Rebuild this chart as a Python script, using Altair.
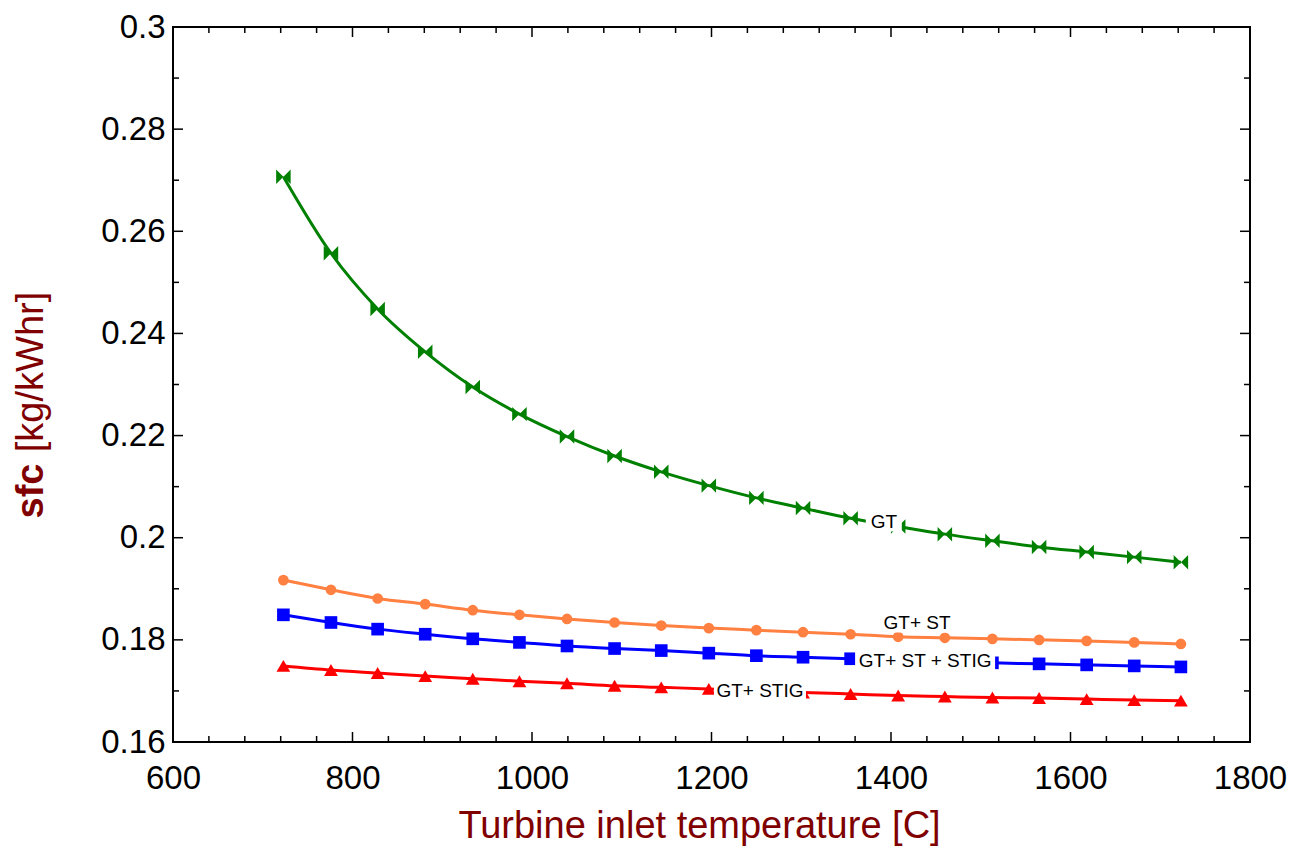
import altair as alt
import pandas as pd

# ---- data ----
temps = [723, 776, 828, 881, 934, 986, 1039, 1092, 1144, 1197,
         1250, 1302, 1355, 1408, 1460, 1513, 1565, 1618, 1671, 1723]
sfc_gt = [0.2707, 0.2557, 0.2448, 0.2364, 0.2295, 0.2242, 0.2198, 0.2160, 0.2129, 0.2102,
          0.2078, 0.2058, 0.2038, 0.2022, 0.2007, 0.1994, 0.1982, 0.1972, 0.1962, 0.1952]
sfc_gt_st = [0.1917, 0.1898, 0.1881, 0.1870, 0.1858, 0.1849, 0.1841, 0.1834, 0.1828, 0.1823,
             0.1819, 0.1815, 0.1811, 0.1806, 0.1804, 0.1802, 0.1800, 0.1798, 0.1795, 0.1792]
sfc_gt_st_stig = [0.1849, 0.1834, 0.1821, 0.1811, 0.1802, 0.1795, 0.1788, 0.1783, 0.1779, 0.1774,
                  0.1769, 0.1766, 0.1763, 0.1761, 0.1758, 0.1755, 0.1753, 0.1751, 0.1749, 0.1747]
sfc_gt_stig = [0.1749, 0.1741, 0.1735, 0.1729, 0.1724, 0.1719, 0.1715, 0.1710, 0.1707, 0.1704,
               0.1700, 0.1697, 0.1694, 0.1691, 0.1689, 0.1687, 0.1686, 0.1684, 0.1682, 0.1681]

series_names = ["GT", "GT+ ST", "GT+ ST + STIG", "GT+ STIG"]
series_colors = ["#008000", "#FF8040", "#0000FF", "#FF0000"]

# inline labels (anchor in data units)
label_text = ["GT", "GT+ ST", "GT+ ST + STIG", "GT+ STIG"]
label_x = [1392, 1429, 1438, 1254]
label_y = [0.2031, 0.1833, 0.1759, 0.1699]

x_major = [600, 800, 1000, 1200, 1400, 1600, 1800]
x_minor = [640, 680, 720, 760, 840, 880, 920, 960, 1040, 1080, 1120, 1160,
           1240, 1280, 1320, 1360, 1440, 1480, 1520, 1560, 1640, 1680, 1720, 1760]
y_major = [0.16, 0.18, 0.20, 0.22, 0.24, 0.26, 0.28, 0.30]
y_minor = [0.17, 0.19, 0.21, 0.23, 0.25, 0.27, 0.29]

# ---- layout / style ----
W, H = 1077, 715
FONT = "Liberation Sans"
LABEL_BOX_HALF_PX = [18, 37, 70, 46]      # half-width of white box behind each label (pixels)
PX_PER_UNIT_X = W / (1800 - 600)

# ---- build tables ----
series_vals = [sfc_gt, sfc_gt_st, sfc_gt_st_stig, sfc_gt_stig]
rows = []
for name, vals in zip(series_names, series_vals):
    for t, v in zip(temps, vals):
        rows.append({"T": t, "sfc": v, "series": name})
df = pd.DataFrame(rows)

labels_df = pd.DataFrame({"text": label_text, "T": label_x, "sfc": label_y})
labels_df["x0"] = [x - h / PX_PER_UNIT_X for x, h in zip(label_x, LABEL_BOX_HALF_PX)]
labels_df["x1"] = [x + h / PX_PER_UNIT_X for x, h in zip(label_x, LABEL_BOX_HALF_PX)]

xs = alt.Scale(domain=[600, 1800], nice=False, zero=False)
ys = alt.Scale(domain=[0.16, 0.30], nice=False, zero=False)
color = alt.Color("series:N", scale=alt.Scale(domain=series_names, range=series_colors), legend=None)

bowtie = "M-1,-1L0,0L-1,1Z M1,-1L0,0L1,1Z"

lines = alt.Chart(df).mark_line(strokeWidth=3, interpolate="monotone").encode(
    x=alt.X("T:Q", scale=xs, axis=alt.Axis(
        values=x_major, format="d", tickSize=0, domain=False, grid=False, labelFlush=False,
        labelFont=FONT, labelFontSize=33, labelColor="black", labelPadding=20,
        title="Turbine inlet temperature [C]", titleFont=FONT, titleFontSize=38,
        titleFontWeight="normal", titleColor="#800000", titlePadding=12, titleX=526)),
    y=alt.Y("sfc:Q", scale=ys, axis=alt.Axis(
        values=y_major, format=".2~f", tickSize=0, domain=False, grid=False, labelFlush=False,
        labelFont=FONT, labelFontSize=33, labelColor="black", labelPadding=8, title=None)),
    color=color,
    detail="series:N",
)

marker_specs = [(bowtie, 210), ("circle", 115), ("square", 160), ("triangle-up", 190)]
point_layers = []
for name, col, (shp, sz) in zip(series_names, series_colors, marker_specs):
    point_layers.append(
        alt.Chart(df).transform_filter(alt.datum.series == name).mark_point(
            shape=shp, size=sz, filled=True, fill=col, opacity=1, strokeWidth=0).encode(
            x=alt.X("T:Q", scale=xs), y=alt.Y("sfc:Q", scale=ys))
    )

box = alt.Chart(labels_df).mark_rule(color="white", strokeWidth=19).encode(
    x=alt.X("x0:Q", scale=xs), x2="x1:Q", y=alt.Y("sfc:Q", scale=ys))
label_txt = alt.Chart(labels_df).mark_text(font=FONT, fontSize=19, color="black").encode(
    x=alt.X("T:Q", scale=xs), y=alt.Y("sfc:Q", scale=ys), text="text:N")

# inward ticks on all four sides
xmaj = pd.DataFrame({"v": x_major})
xmin = pd.DataFrame({"v": x_minor})
ymaj = pd.DataFrame({"v": y_major})
ymin = pd.DataFrame({"v": y_minor})

def xticks(d, length):
    bot = alt.Chart(d).mark_rule(color="black", strokeWidth=1.5).encode(
        x=alt.X("v:Q", scale=xs), y=alt.value(H), y2=alt.value(H - length))
    top = alt.Chart(d).mark_rule(color="black", strokeWidth=1.5).encode(
        x=alt.X("v:Q", scale=xs), y=alt.value(0), y2=alt.value(length))
    return bot + top

def yticks(d, length):
    left = alt.Chart(d).mark_rule(color="black", strokeWidth=1.5).encode(
        y=alt.Y("v:Q", scale=ys), x=alt.value(0), x2=alt.value(length))
    right = alt.Chart(d).mark_rule(color="black", strokeWidth=1.5).encode(
        y=alt.Y("v:Q", scale=ys), x=alt.value(W), x2=alt.value(W - length))
    return left + right

ticks = xticks(xmaj, 10) + xticks(xmin, 6) + yticks(ymaj, 10) + yticks(ymin, 6)

ytitle_df = pd.DataFrame({"a": ["sfc"], "b": ["[kg/kWhr]"]})
ytitle1 = alt.Chart(ytitle_df).mark_text(font=FONT, fontSize=38, fontWeight="bold", color="#800000",
                                         angle=270, align="center", baseline="middle").encode(
    text="a:N", x=alt.value(-141), y=alt.value(464))
ytitle2 = alt.Chart(ytitle_df).mark_text(font=FONT, fontSize=38, color="#800000",
                                         angle=270, align="center", baseline="middle").encode(
    text="b:N", x=alt.value(-141), y=alt.value(345))

chart = alt.layer(lines, *point_layers, box, label_txt, ticks, ytitle1, ytitle2).properties(
    width=W, height=H,
    padding={"left": 173, "top": 27, "right": 51, "bottom": 108},
    autosize=alt.AutoSizeParams(type="none"),
    background="white",
).configure_view(stroke="black", strokeWidth=2)

chart.save("out.html", embed_options={"renderer": "svg", "actions": False})
